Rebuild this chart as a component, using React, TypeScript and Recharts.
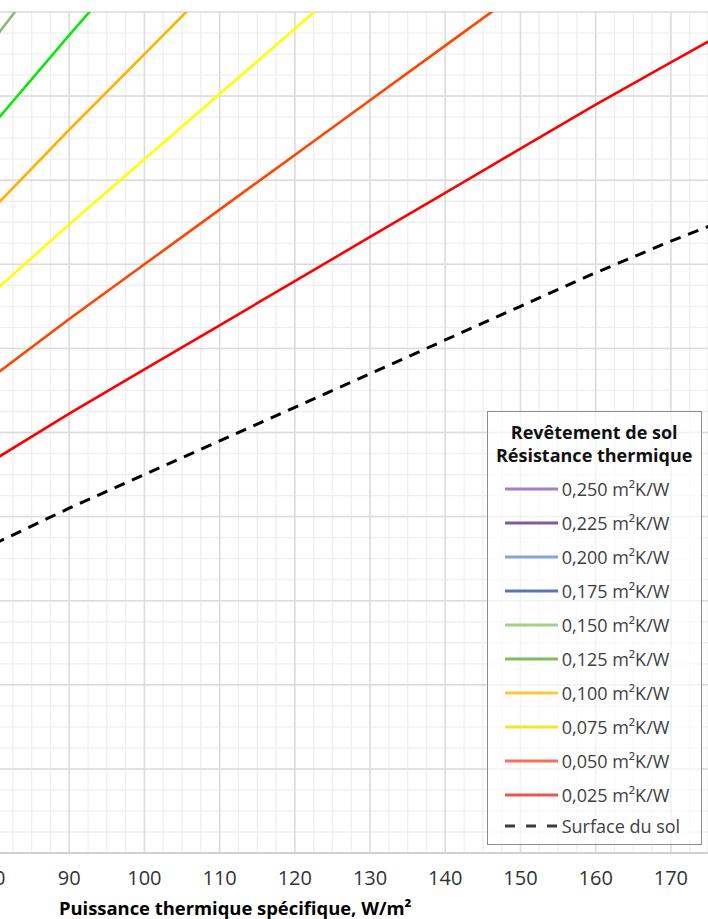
import { LineChart, Line, XAxis, YAxis, CartesianGrid, Legend } from 'recharts';

const powers = [80, 90, 100, 110, 120, 130, 140, 150, 160, 170, 175];

// (°C), null once the curve has left the top of the plot
const surface = [27.35, 28.2, 29.0, 29.8, 30.6, 31.4, 32.2, 33.0, 33.8, 34.55, 34.9];
const r025 = [29.35, 30.45, 31.5, 32.55, 33.6, 34.65, 35.7, 36.75, 37.8, 38.8, 39.3];
const r050 = [31.35, 32.7, 34.0, 35.3, 36.6, 37.9, 39.2, 40.5, null, null, null];
const r075 = [33.35, 34.95, 36.5, 38.05, 39.6, 41.15, null, null, null, null, null];
const r100 = [35.35, 37.2, 39.0, 40.8, null, null, null, null, null, null, null];
const r125 = [37.35, 39.45, 41.5, null, null, null, null, null, null, null, null];
const r150 = [39.35, 41.7, null, null, null, null, null, null, null, null, null];

const xTicks = [80, 90, 100, 110, 120, 130, 140, 150, 160, 170];
const xMinor = Array.from({ length: 39 }, (_, i) => 80 + i * 2.5);
const yTicks = [20, 22, 24, 26, 28, 30, 32, 34, 36, 38, 40];
const yMinor = Array.from({ length: 41 }, (_, i) => 20 + i * 0.5);

const legendItems = [
  { label: '0,250 m²K/W', color: '#a57fc3' },
  { label: '0,225 m²K/W', color: '#7a5ca7' },
  { label: '0,200 m²K/W', color: '#86a5db' },
  { label: '0,175 m²K/W', color: '#5b74b5' },
  { label: '0,150 m²K/W', color: '#a4cf8c' },
  { label: '0,125 m²K/W', color: '#7dbd5b' },
  { label: '0,100 m²K/W', color: '#ffc63a' },
  { label: '0,075 m²K/W', color: '#f2e530' },
  { label: '0,050 m²K/W', color: '#f7705a' },
  { label: '0,025 m²K/W', color: '#e95454' },
];

const data = powers.map((q, i) => ({
  q,
  surface: surface[i],
  r025: r025[i],
  r050: r050[i],
  r075: r075[i],
  r100: r100[i],
  r125: r125[i],
  r150: r150[i],
}));

const font = '"Open Sans", sans-serif';

const LegendBox = () => (
  <div
    style={{
      width: 215,
      height: 434,
      boxSizing: 'border-box',
      border: '1.5px solid #8c8c8c',
      background: 'rgba(255,255,255,0.65)',
      fontFamily: font,
      paddingTop: 9,
    }}
  >
    <div style={{ textAlign: 'center', fontWeight: 700, fontSize: 18, lineHeight: '22.5px', color: '#111' }}>
      Revêtement de sol
      <br />
      Résistance thermique
    </div>
    <div style={{ height: 6 }} />
    {legendItems.map((it) => (
      <div key={it.label} style={{ display: 'flex', alignItems: 'center', height: 34 }}>
        <svg width={70} height={6} style={{ marginLeft: 16 }}>
          <line x1={1} y1={3} x2={54} y2={3} stroke={it.color} strokeWidth={3} />
        </svg>
        <span style={{ fontSize: 18, color: '#404040', marginLeft: -12 }}>{it.label}</span>
      </div>
    ))}
    <div style={{ display: 'flex', alignItems: 'center', height: 28 }}>
      <svg width={70} height={6} style={{ marginLeft: 16 }}>
        <line x1={1} y1={3} x2={54} y2={3} stroke="#3c3c3c" strokeWidth={3} strokeDasharray="10 11" />
      </svg>
      <span style={{ fontSize: 18, color: '#404040', marginLeft: -12 }}>Surface du sol</span>
    </div>
  </div>
);

export default function App() {
  return (
    <div style={{ position: 'fixed', left: 0, top: 0, width: 708, height: 919, overflow: 'hidden', background: '#fff' }}>
      <LineChart
        width={716}
        height={919}
        data={data}
        margin={{ top: 12, right: 1.5, bottom: 0, left: 0 }}
        style={{ position: 'absolute', left: -6, top: 0 }}
      >
        <XAxis
          xAxisId="minor"
          dataKey="q"
          type="number"
          domain={[80, 175]}
          ticks={xMinor}
          interval={0}
          allowDataOverflow
          hide
        />
        <YAxis
          yAxisId="minor"
          type="number"
          domain={[20, 40]}
          ticks={yMinor}
          interval={0}
          allowDataOverflow
          hide
        />
        <CartesianGrid xAxisId="minor" yAxisId="minor" stroke="#efefef" strokeWidth={1.3} />
        <CartesianGrid stroke="#dcdcdc" strokeWidth={1.5} />
        <XAxis
          dataKey="q"
          type="number"
          domain={[80, 175]}
          ticks={xTicks}
          interval={0}
          height={66}
          tickLine={false}
          tickMargin={12}
          axisLine={{ stroke: '#d0d0d0', strokeWidth: 2 }}
          tick={{ fontSize: 20, fill: '#333', fontFamily: font }}
          label={{
            value: 'Puissance thermique spécifique, W/m²',
            position: 'insideBottom',
            offset: 4,
            dx: -116,
            style: { fontSize: 18.4, fontWeight: 700, fill: '#000', fontFamily: font },
          }}
        />
        <YAxis type="number" domain={[20, 40]} ticks={yTicks} interval={0} allowDataOverflow hide />
        <Line dataKey="r150" stroke="#92b47c" strokeWidth={2.6} dot={false} isAnimationActive={false} />
        <Line dataKey="r125" stroke="#0ee60e" strokeWidth={2.6} dot={false} isAnimationActive={false} />
        <Line dataKey="r100" stroke="#ffb300" strokeWidth={2.6} dot={false} isAnimationActive={false} />
        <Line dataKey="r075" stroke="#ffff00" strokeWidth={2.6} dot={false} isAnimationActive={false} />
        <Line dataKey="r050" stroke="#ff4500" strokeWidth={2.6} dot={false} isAnimationActive={false} />
        <Line dataKey="r025" stroke="#ff0000" strokeWidth={2.6} dot={false} isAnimationActive={false} />
        <Line
          dataKey="surface"
          stroke="#000"
          strokeWidth={3}
          strokeDasharray="11 8"
          dot={false}
          isAnimationActive={false}
        />
        <Legend
          layout="vertical"
          align="center"
          verticalAlign="middle"
          content={() => <LegendBox />}
          wrapperStyle={{ position: 'absolute', left: 492.7, top: 411, width: 215, height: 434 }}
        />
      </LineChart>
    </div>
  );
}
